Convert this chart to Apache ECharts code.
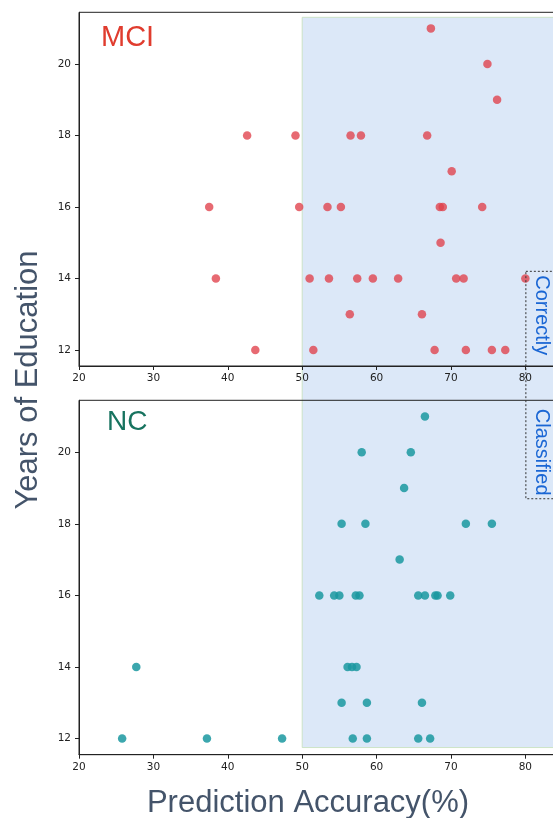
<!DOCTYPE html>
<html>
<head>
<meta charset="utf-8">
<script src="https://cdn.jsdelivr.net/npm/echarts@6/dist/echarts.min.js"></script>
<style>
html,body{margin:0;padding:0;background:#fff;}
#c{width:553px;height:818px;}
</style>
</head>
<body>
<div id="c"></div>
<script>
// ---- data ----
const xTicks = [20, 30, 40, 50, 60, 70, 80];
const yTicks = [12, 14, 16, 18, 20];
const mciAccuracy = [67.3, 74.9, 76.2,
  42.6, 49.1, 56.5, 57.9, 66.8,
  70.1,
  37.5, 49.6, 53.4, 55.2, 68.5, 68.9, 74.2,
  68.6,
  38.4, 51.0, 53.6, 57.4, 59.5, 62.9, 70.7, 71.7, 80.0,
  56.4, 66.1,
  43.7, 51.5, 67.8, 72.0, 75.5, 77.3];
const mciEducation = [21, 20, 19,
  18, 18, 18, 18, 18,
  17,
  16, 16, 16, 16, 16, 16, 16,
  15,
  14, 14, 14, 14, 14, 14, 14, 14, 14,
  13, 13,
  12, 12, 12, 12, 12, 12];
const ncAccuracy = [66.5,
  58.0, 64.6,
  63.7,
  55.3, 58.5, 72.0, 75.5,
  63.1,
  52.3, 54.3, 55.0, 57.2, 57.7, 65.6, 66.5, 67.9, 68.2, 69.9,
  27.7, 56.1, 56.7, 57.3,
  55.3, 58.7, 66.1,
  25.8, 37.2, 47.3, 56.8, 58.7, 65.6, 67.2];
const ncEducation = [21,
  20, 20,
  19,
  18, 18, 18, 18,
  17,
  16, 16, 16, 16, 16, 16, 16, 16, 16, 16,
  14, 14, 14, 14,
  13, 13, 13,
  12, 12, 12, 12, 12, 12, 12];
const xMin = 20, xMax = 86, yMin = 11.55, yMax = 21.45;
const shadeFrom = 50;

const mciPts = mciAccuracy.map((v, i) => [v, mciEducation[i]]);
const ncPts = ncAccuracy.map((v, i) => [v, ncEducation[i]]);

const chart = echarts.init(document.getElementById('c'), null, {renderer: 'canvas'});

function xAxisCfg(gi) {
  return {
    type: 'value', gridIndex: gi, min: xMin, max: xMax,
    axisLine: {show: true, onZero: false, lineStyle: {color: '#222', width: 1}},
    axisTick: {show: true, length: 4, lineStyle: {color: '#222'}, customValues: xTicks},
    axisLabel: {color: '#222', fontSize: 10.5, fontFamily: 'DejaVu Sans', margin: 7, customValues: xTicks},
    splitLine: {show: false}
  };
}
function yAxisCfg(gi) {
  return {
    type: 'value', gridIndex: gi, min: yMin, max: yMax,
    axisLine: {show: true, onZero: false, lineStyle: {color: '#222', width: 1}},
    axisTick: {show: true, length: 4, lineStyle: {color: '#222'}, customValues: yTicks},
    axisLabel: {color: '#222', fontSize: 10.5, fontFamily: 'DejaVu Sans', margin: 8, customValues: yTicks},
    splitLine: {show: false}
  };
}

const option = {
  animation: false,
  backgroundColor: '#fff',
  grid: [
    {left: 79, top: 12.3, width: 491, height: 353.7, outerBoundsMode: 'none', containLabel: false,
     show: true, borderColor: '#222', borderWidth: 1, backgroundColor: 'transparent'},
    {left: 79, top: 400.3, width: 491, height: 354.4, outerBoundsMode: 'none', containLabel: false,
     show: true, borderColor: '#222', borderWidth: 1, backgroundColor: 'transparent'}
  ],
  xAxis: [xAxisCfg(0), xAxisCfg(1)],
  yAxis: [yAxisCfg(0), yAxisCfg(1)],
  series: [
    {type: 'scatter', xAxisIndex: 0, yAxisIndex: 0, data: mciPts, symbolSize: 8.5,
     itemStyle: {color: '#e0404a', opacity: 0.78}, z: 5},
    {type: 'scatter', xAxisIndex: 1, yAxisIndex: 1, data: ncPts, symbolSize: 8.5,
     itemStyle: {color: '#1a98a0', opacity: 0.85}, z: 5}
  ]
};
chart.setOption(option);

// shaded "correctly classified" region and annotations, placed via the axes' scales
const pTL = chart.convertToPixel({gridIndex: 0}, [shadeFrom, 21.31]);
const pBR = chart.convertToPixel({gridIndex: 1}, [xMax, 11.75]);
const boxTL = chart.convertToPixel({gridIndex: 0}, [80, 14.2]);
const boxBR = chart.convertToPixel({gridIndex: 1}, [xMax, 18.7]);
const t1 = chart.convertToPixel({gridIndex: 0}, [82.2, 12.97]);
const t2 = chart.convertToPixel({gridIndex: 1}, [82.2, 20.0]);

chart.setOption({
  graphic: [
    {type: 'rect', z: -10, silent: true,
     shape: {x: pTL[0], y: pTL[1], width: pBR[0] - pTL[0] + 20, height: pBR[1] - pTL[1]},
     style: {fill: '#dce8f8', stroke: 'rgba(196,222,186,0.8)', lineWidth: 1}},
    {type: 'rect', z: 10, silent: true,
     shape: {x: boxTL[0] + 0.5, y: boxTL[1], width: 60, height: boxBR[1] - boxTL[1]},
     style: {fill: 'transparent', stroke: '#333', lineWidth: 1, lineDash: [2, 2]}},
    {type: 'text', z: 11, x: t1[0], y: t1[1], rotation: -Math.PI / 2, silent: true,
     style: {text: 'Correctly', fill: '#1a66d4', font: '20px "Liberation Sans", Arial, sans-serif', align: 'center', verticalAlign: 'middle'}},
    {type: 'text', z: 11, x: t2[0], y: t2[1], rotation: -Math.PI / 2, silent: true,
     style: {text: 'Classified', fill: '#1a66d4', font: '20px "Liberation Sans", Arial, sans-serif', align: 'center', verticalAlign: 'middle'}},
    {type: 'text', z: 11, left: 101, top: 23, silent: true,
     style: {text: 'MCI', fill: '#e03c2e', font: '29px "Liberation Sans", Arial, sans-serif'}},
    {type: 'text', z: 11, left: 107, top: 408, silent: true,
     style: {text: 'NC', fill: '#17735f', font: '28px "Liberation Sans", Arial, sans-serif'}},
    {type: 'text', z: 11, x: 28, y: 380, rotation: Math.PI / 2, silent: true,
     style: {text: 'Years of Education', fill: '#44546a', font: '31px "Liberation Sans", Arial, sans-serif', align: 'center', verticalAlign: 'middle'}},
    {type: 'text', z: 11, x: 308, y: 803, silent: true,
     style: {text: 'Prediction Accuracy(%)', fill: '#44546a', font: '31px "Liberation Sans", Arial, sans-serif', align: 'center', verticalAlign: 'middle'}}
  ]
});
</script>
</body>
</html>
